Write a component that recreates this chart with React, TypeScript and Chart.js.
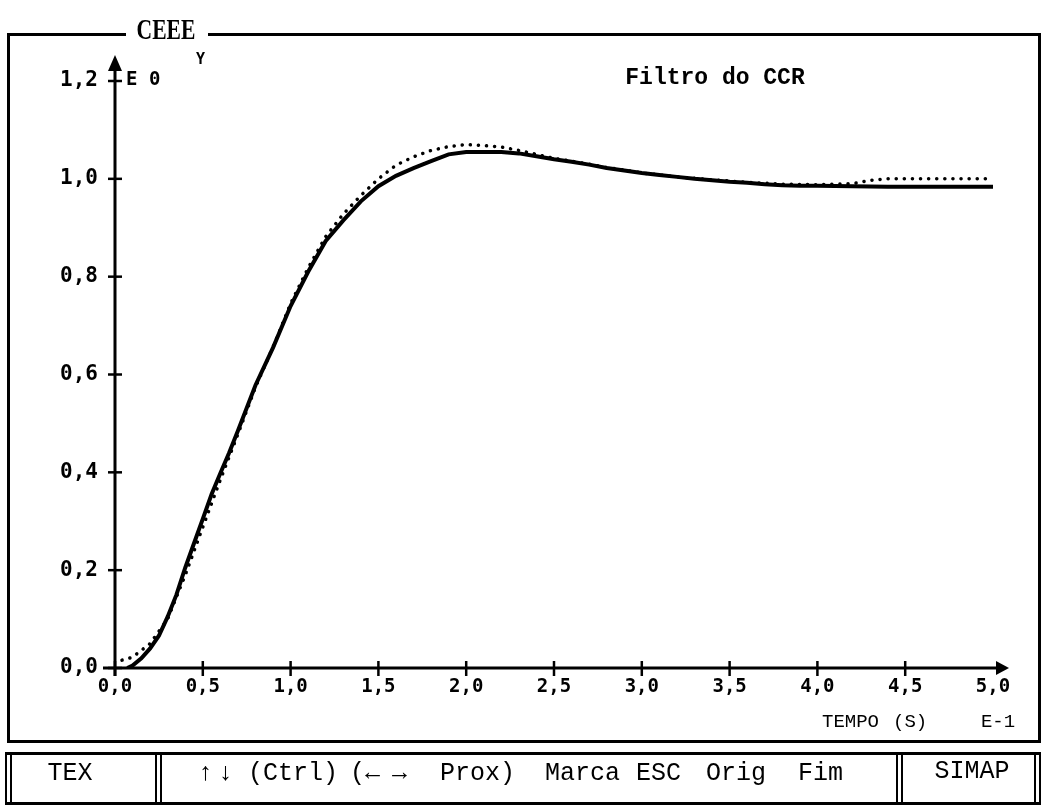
import React, { useEffect, useRef } from "react";
import { Chart, registerables } from "chart.js";

Chart.register(...registerables);

// ---- data ----
const xTickLabels = ["0,0", "0,5", "1,0", "1,5", "2,0", "2,5", "3,0", "3,5", "4,0", "4,5", "5,0"];
const yTickLabels = ["0,0", "0,2", "0,4", "0,6", "0,8", "1,0", "1,2"];

const timeSolid = [0.07, 0.1, 0.15, 0.2, 0.25, 0.3, 0.35, 0.4, 0.45, 0.5, 0.55, 0.6, 0.65, 0.7, 0.8, 0.9, 1.0, 1.1, 1.2, 1.3, 1.4, 1.5, 1.6, 1.7, 1.8, 1.9, 2.0, 2.1, 2.2, 2.3, 2.4, 2.5, 2.6, 2.7, 2.8, 2.9, 3.0, 3.1, 3.2, 3.3, 3.4, 3.5, 3.6, 3.7, 3.8, 3.9, 4.0, 4.2, 4.4, 4.6, 4.8, 5.0];
const solidValues = [0.0, 0.005, 0.02, 0.04, 0.066, 0.105, 0.15, 0.205, 0.255, 0.305, 0.355, 0.398, 0.44, 0.485, 0.578, 0.655, 0.74, 0.81, 0.873, 0.915, 0.954, 0.985, 1.006, 1.022, 1.036, 1.05, 1.055, 1.055, 1.055, 1.052, 1.046, 1.04, 1.035, 1.029, 1.022, 1.017, 1.012, 1.008, 1.004, 1.0, 0.997, 0.994, 0.992, 0.989, 0.987, 0.986, 0.986, 0.985, 0.984, 0.984, 0.984, 0.984];

const timeDotted = [0.04, 0.1, 0.2, 0.3, 0.4, 0.5, 0.6, 0.7, 0.8, 0.9, 1.0, 1.1, 1.2, 1.3, 1.4, 1.5, 1.6, 1.7, 1.8, 1.9, 2.0, 2.1, 2.2, 2.3, 2.4, 2.5, 2.6, 2.7, 2.8, 2.9, 3.0, 3.2, 3.4, 3.6, 3.8, 4.0, 4.2, 4.3, 4.4, 4.6, 4.8, 5.0];
const dottedValues = [0.016, 0.022, 0.05, 0.1, 0.19, 0.288, 0.385, 0.478, 0.574, 0.656, 0.745, 0.818, 0.882, 0.928, 0.966, 1.0, 1.028, 1.045, 1.058, 1.066, 1.07, 1.068, 1.065, 1.058, 1.05, 1.042, 1.036, 1.03, 1.023, 1.018, 1.012, 1.004, 0.998, 0.993, 0.989, 0.988, 0.99, 0.997, 1.0, 1.0, 1.0, 1.0];

const W = 1042;
const H = 807;
const MONO = '"Liberation Mono", "DejaVu Sans Mono", monospace';
const SANSMONO = '"DejaVu Sans Mono", "Liberation Mono", monospace';

function Txt(props: { text: string; left: number; cy: number; center?: boolean; style?: React.CSSProperties }) {
  const { text, left, cy, center, style } = props;
  return (
    <div
      style={{
        position: "absolute",
        left,
        top: cy - 20,
        height: 40,
        lineHeight: "40px",
        whiteSpace: "pre",
        color: "#000",
        transform: center ? "translateX(-50%)" : undefined,
        ...style,
      }}
    >
      {text}
    </div>
  );
}

export default function App() {
  const ref = useRef<HTMLCanvasElement | null>(null);

  useEffect(() => {
    if (!ref.current) return;
    const axisPlugin = {
      id: "retroAxes",
      afterDraw(chart: any) {
        const { ctx } = chart;
        const xs = chart.scales.x;
        const ys = chart.scales.y;
        const x0 = xs.getPixelForValue(0);
        const y0 = ys.getPixelForValue(0);
        const xEnd = xs.getPixelForValue(5);
        const yTop = ys.getPixelForValue(1.2);
        ctx.save();
        ctx.strokeStyle = "#000";
        ctx.fillStyle = "#000";
        ctx.lineWidth = 3;
        // x axis
        ctx.beginPath();
        ctx.moveTo(x0 - 12, y0);
        ctx.lineTo(xEnd + 6, y0);
        ctx.stroke();
        ctx.beginPath();
        ctx.moveTo(xEnd + 16, y0);
        ctx.lineTo(xEnd + 3, y0 - 7);
        ctx.lineTo(xEnd + 3, y0 + 7);
        ctx.closePath();
        ctx.fill();
        // y axis
        ctx.beginPath();
        ctx.moveTo(x0, y0 + 8);
        ctx.lineTo(x0, yTop - 10);
        ctx.stroke();
        ctx.beginPath();
        ctx.moveTo(x0, yTop - 26);
        ctx.lineTo(x0 - 7, yTop - 10);
        ctx.lineTo(x0 + 7, yTop - 10);
        ctx.closePath();
        ctx.fill();
        // tick crosses
        ctx.lineWidth = 2.5;
        xs.ticks.forEach((t: any) => {
          if (t.value >= 4.99) return;
          const px = xs.getPixelForValue(t.value);
          ctx.beginPath();
          ctx.moveTo(px, y0 - 7);
          ctx.lineTo(px, y0 + 8);
          ctx.stroke();
        });
        ys.ticks.forEach((t: any) => {
          const py = ys.getPixelForValue(t.value);
          ctx.beginPath();
          ctx.moveTo(x0 - 7, py);
          ctx.lineTo(x0 + 7, py);
          ctx.stroke();
        });
        ctx.restore();
      },
    };

    const chart = new Chart(ref.current, {
      type: "line",
      data: {
        datasets: [
          {
            label: "dotted",
            data: timeDotted.map((t, i) => ({ x: t, y: dottedValues[i] })),
            borderColor: "#000",
            borderWidth: 3.5,
            borderDash: [0.1, 8],
            borderCapStyle: "round",
            pointRadius: 0,
            tension: 0,
            fill: false,
          },
          {
            label: "solid",
            data: timeSolid.map((t, i) => ({ x: t, y: solidValues[i] })),
            borderColor: "#000",
            borderWidth: 4,
            pointRadius: 0,
            tension: 0,
            fill: false,
          },
        ],
      },
      options: {
        responsive: false,
        animation: false,
        events: [],
        layout: { padding: { left: 15, right: 49, top: 81, bottom: 99 } },
        plugins: {
          legend: { display: false },
          tooltip: { enabled: false },
          title: { display: false },
        },
        scales: {
          x: {
            type: "linear",
            min: 0,
            max: 5,
            border: { display: false },
            grid: { display: false, drawTicks: false },
            ticks: {
              stepSize: 0.5,
              autoSkip: false,
              maxRotation: 0,
              padding: 8,
              color: "#000",
              font: { family: SANSMONO, size: 19, weight: "bold" },
              callback: (_v: any, i: number) => xTickLabels[i],
            },
            afterFit: (s: any) => {
              s.height = 40;
            },
          },
          y: {
            min: 0,
            max: 1.2,
            border: { display: false },
            grid: { display: false, drawTicks: false },
            ticks: {
              stepSize: 0.2,
              autoSkip: false,
              padding: 17,
              color: "#000",
              font: { family: SANSMONO, size: 21, weight: "bold" },
              callback: (_v: any, i: number) => yTickLabels[i],
            },
            afterFit: (s: any) => {
              s.width = 100;
            },
          },
        },
      },
      plugins: [axisPlugin],
    } as any);
    return () => chart.destroy();
  }, []);

  const barFont: React.CSSProperties = { fontFamily: MONO, fontSize: 25 };

  return (
    <div style={{ position: "absolute", left: 0, top: 0, width: W, height: H, background: "#fff", overflow: "hidden" }}>
      {/* outer frame */}
      <div style={{ position: "absolute", left: 7, top: 33, width: 1034, height: 710, border: "3px solid #000", boxSizing: "border-box" }} />
      <canvas ref={ref} width={W} height={H} style={{ position: "absolute", left: 0, top: 0, width: W, height: H }} />
      {/* frame title */}
      <div style={{ position: "absolute", left: 126, top: 14, width: 82, height: 34, background: "#fff" }} />
      <Txt text="CEEE" left={166} cy={29} center style={{ fontFamily: '"Liberation Serif", serif', fontWeight: "bold", fontSize: 30, transform: "translateX(-50%) scaleX(0.72)" }} />
      {/* y axis annotations */}
      <Txt text="E 0" left={126} cy={78} style={{ fontFamily: SANSMONO, fontWeight: "bold", fontSize: 19 }} />
      <Txt text="Y" left={196} cy={59} style={{ fontFamily: SANSMONO, fontWeight: "bold", fontSize: 15 }} />
      {/* chart title */}
      <Txt text="Filtro do CCR" left={715} cy={78} center style={{ fontFamily: MONO, fontWeight: "bold", fontSize: 23 }} />
      {/* x axis name */}
      <Txt text="TEMPO" left={822} cy={722} style={{ fontFamily: MONO, fontSize: 19 }} />
      <Txt text="(S)" left={893} cy={722} style={{ fontFamily: MONO, fontSize: 19 }} />
      <Txt text="E-1" left={998} cy={722} center style={{ fontFamily: MONO, fontSize: 19 }} />
      {/* bottom bar */}
      <div style={{ position: "absolute", left: 7, top: 752, width: 1034, height: 53, borderTop: "3px solid #000", borderBottom: "3px solid #000", boxSizing: "border-box" }} />
      <div style={{ position: "absolute", left: 5, top: 752, width: 7, height: 53, borderLeft: "2px solid #000", borderRight: "2px solid #000", boxSizing: "border-box" }} />
      <div style={{ position: "absolute", left: 155, top: 752, width: 7, height: 53, borderLeft: "2px solid #000", borderRight: "2px solid #000", boxSizing: "border-box" }} />
      <div style={{ position: "absolute", left: 896, top: 752, width: 7, height: 53, borderLeft: "2px solid #000", borderRight: "2px solid #000", boxSizing: "border-box" }} />
      <div style={{ position: "absolute", left: 1034, top: 752, width: 7, height: 53, borderLeft: "2px solid #000", borderRight: "2px solid #000", boxSizing: "border-box" }} />
      <Txt text="TEX" left={70} cy={774} center style={barFont} />
      <Txt text="↑" left={198} cy={774} style={barFont} />
      <Txt text="↓" left={218} cy={774} style={barFont} />
      <Txt text="(Ctrl)" left={248} cy={774} style={barFont} />
      <Txt text="(←" left={350} cy={774} style={barFont} />
      <Txt text="→" left={392} cy={774} style={barFont} />
      <Txt text="Prox)" left={440} cy={774} style={barFont} />
      <Txt text="Marca" left={545} cy={774} style={barFont} />
      <Txt text="ESC" left={636} cy={774} style={barFont} />
      <Txt text="Orig" left={706} cy={774} style={barFont} />
      <Txt text="Fim" left={798} cy={774} style={barFont} />
      <Txt text="SIMAP" left={972} cy={772} center style={barFont} />
    </div>
  );
}
